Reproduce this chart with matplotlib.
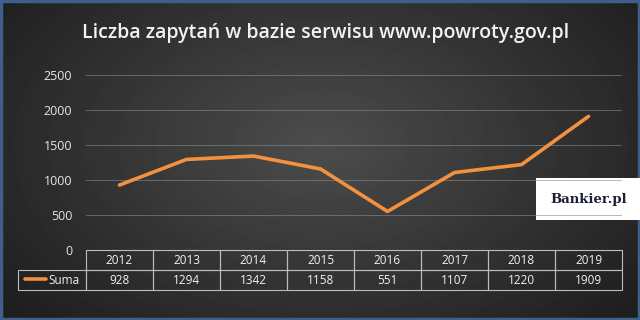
import numpy as np
import matplotlib
matplotlib.use("Agg")
import matplotlib.pyplot as plt
from matplotlib.patches import Rectangle

# donnees
lata = ["2012", "2013", "2014", "2015", "2016", "2017", "2018", "2019"]
suma = [928, 1294, 1342, 1158, 551, 1107, 1220, 1909]
y_ticks = [0, 500, 1000, 1500, 2000, 2500]

plt.rcParams["font.family"] = ["Open Sans", "DejaVu Sans"]
W, H = 640, 320
fig = plt.figure(figsize=(W / 100, H / 100), dpi=100)

# fond degrade (radial)
bg = fig.add_axes([0, 0, 1, 1], zorder=-10)
yy, xx = np.mgrid[0:H, 0:W]
r = np.sqrt(((xx - W * 0.5) / (W * 0.6)) ** 2 + ((yy - H * 0.45) / (H * 0.75)) ** 2)
shade = np.clip(0.30 - 0.17 * r, 0.09, 0.30)
bg.imshow(shade, cmap="gray", vmin=0, vmax=1, aspect="auto", extent=[0, W, H, 0])
bg.set_xlim(0, W)
bg.set_ylim(H, 0)
bg.axis("off")
bg.add_patch(Rectangle((1, 1), W - 2, H - 2, fill=False, edgecolor="#3d5f8a", lw=2.5))

fig.text(0.508, 1 - 33 / H, "Liczba zapytań w bazie serwisu www.powroty.gov.pl",
         ha="center", va="center", color="#f2f2f2", fontsize=14, fontweight="semibold")

x0, x1, yb, yt = 86, 622, 250, 75
ax = fig.add_axes([x0 / W, 1 - yb / H, (x1 - x0) / W, (yb - yt) / H])
ax.set_facecolor("none")
x = np.arange(len(lata))
ax.plot(x, suma, color="#f3913f", lw=2.6, solid_joinstyle="round",
        solid_capstyle="round", label="Suma")
ax.set_xlim(-0.5, len(lata) - 0.5)
ax.set_ylim(0, 2500)
ax.set_yticks(y_ticks)
ax.set_xticks([])
ax.tick_params(axis="y", length=0, pad=10, labelcolor="#e6e6e6", labelsize=9)
for s in ax.spines.values():
    s.set_visible(False)
ax.grid(axis="y", color="#8a8a8a", lw=0.7, alpha=0.6)

# tableau sous le graphique (colonne de legende a gauche, hors bbox)
cw = 68 / (x1 - x0)
th = 40 / (yb - yt)
tab = ax.table(cellText=[[str(v) for v in suma]], colLabels=lata,
               colWidths=[1 / len(lata)] * len(lata),
               cellLoc="center", bbox=[0, -th, 1, th])
tab.add_cell(1, -1, width=cw, height=tab[1, 0].get_height(), text="")
tab.auto_set_font_size(False)
tab.set_fontsize(8.5)
for (i, j), cell in tab.get_celld().items():
    cell.set_facecolor("none")
    cell.set_edgecolor("#bdbdbd")
    cell.set_linewidth(0.8)
    cell.get_text().set_color("#f2f2f2")

leg = ax.legend(loc="center left", bbox_to_anchor=(-cw + 0.002, -th * 0.75),
                frameon=False, handlelength=1.8, handletextpad=0.15,
                borderpad=0, fontsize=8.5, labelcolor="#f2f2f2")

# logo Bankier.pl
bg.add_patch(Rectangle((536, 178), W - 536, 42, facecolor="white", edgecolor="none"))
bg.text(589, 199, "Bankier.pl", ha="center", va="center", color="#1b1f33",
        fontsize=9.5, fontweight="bold", family="DejaVu Serif")

fig.savefig("out.png", dpi=100)
